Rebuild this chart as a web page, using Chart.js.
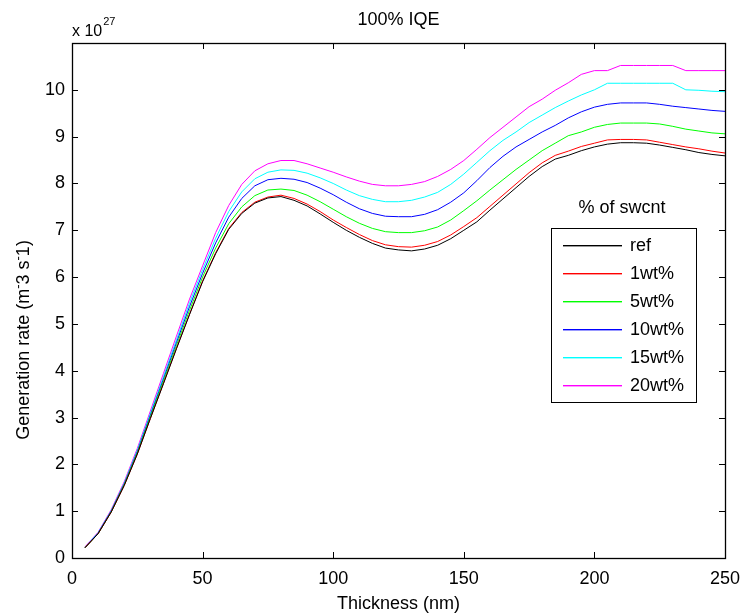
<!DOCTYPE html>
<html>
<head>
<meta charset="utf-8">
<script src="https://cdn.jsdelivr.net/npm/chart.js@4.4.1/dist/chart.umd.min.js"></script>
<style>
  html, body { margin: 0; padding: 0; background: #fff; }
  #wrap { width: 744px; height: 615px; position: relative; }
</style>
</head>
<body>
<div id="wrap"><canvas id="c" width="744" height="615"></canvas></div>
<script>
// Film thickness (nm)
const thickness = [5,10,15,20,25,30,35,40,45,50,55,60,65,70,75,80,85,90,95,100,
  105,110,115,120,125,130,135,140,145,150,155,160,165,170,175,180,185,190,195,200,
  205,210,215,220,225,230,235,240,245,250];

// Generation rate, in units of 1e27 m^-3 s^-1
const ref = [0.22,0.52,0.98,1.55,2.22,2.98,3.72,4.47,5.2,5.9,6.5,7.02,7.36,7.58,7.69,7.72,7.64,7.52,7.35,7.17,
  7.0,6.85,6.72,6.62,6.58,6.56,6.6,6.68,6.82,7.0,7.18,7.43,7.67,7.91,8.15,8.36,8.52,8.6,8.7,8.78,
  8.84,8.87,8.87,8.86,8.82,8.77,8.72,8.66,8.62,8.59];
const wt1 = [0.22,0.52,0.98,1.55,2.22,2.98,3.73,4.48,5.21,5.92,6.52,7.04,7.38,7.6,7.71,7.75,7.68,7.56,7.4,7.22,
  7.06,6.91,6.78,6.69,6.65,6.64,6.68,6.76,6.9,7.08,7.27,7.51,7.75,7.99,8.23,8.44,8.6,8.69,8.79,8.86,
  8.93,8.94,8.94,8.93,8.88,8.83,8.78,8.74,8.69,8.65];
const wt5 = [0.22,0.52,0.99,1.57,2.25,3.02,3.78,4.54,5.29,6.0,6.62,7.14,7.5,7.74,7.86,7.88,7.85,7.75,7.61,7.45,
  7.29,7.15,7.04,6.97,6.95,6.95,6.99,7.07,7.22,7.42,7.63,7.86,8.08,8.3,8.5,8.7,8.86,9.02,9.1,9.2,
  9.26,9.29,9.29,9.29,9.27,9.22,9.16,9.12,9.08,9.06];
const wt10 = [0.22,0.53,1.0,1.58,2.27,3.05,3.82,4.6,5.37,6.08,6.73,7.28,7.68,7.95,8.08,8.11,8.09,8.02,7.9,7.76,
  7.6,7.46,7.36,7.3,7.29,7.29,7.34,7.44,7.6,7.8,8.06,8.34,8.58,8.78,8.94,9.1,9.24,9.4,9.53,9.63,
  9.69,9.72,9.72,9.72,9.69,9.65,9.62,9.59,9.56,9.54];
const wt15 = [0.23,0.54,1.01,1.6,2.3,3.09,3.87,4.66,5.45,6.16,6.83,7.4,7.82,8.1,8.24,8.29,8.28,8.22,8.12,8.0,
  7.86,7.74,7.66,7.61,7.61,7.64,7.71,7.81,7.98,8.2,8.45,8.7,8.92,9.1,9.3,9.46,9.62,9.76,9.89,10.0,
  10.14,10.14,10.14,10.14,10.14,10.14,10.0,9.99,9.97,9.96];
const wt20 = [0.24,0.55,1.03,1.63,2.34,3.14,3.94,4.74,5.53,6.24,6.95,7.53,7.98,8.27,8.42,8.49,8.49,8.42,8.33,8.24,
  8.14,8.05,7.98,7.95,7.95,7.98,8.04,8.15,8.3,8.49,8.73,8.98,9.2,9.42,9.64,9.8,9.99,10.15,10.33,10.41,
  10.41,10.52,10.52,10.52,10.52,10.52,10.41,10.41,10.41,10.41];

const seriesLabels = ['ref','1wt%','5wt%','10wt%','15wt%','20wt%'];
const seriesValues = [ref, wt1, wt5, wt10, wt15, wt20];
const seriesColors = ['#000000','#ff0000','#00ff00','#0000ff','#00ffff','#ff00ff'];

const xTicks = [0,50,100,150,200,250];
const yTicks = [0,1,2,3,4,5,6,7,8,9,10];

const FONT = '"Liberation Sans", Arial, Helvetica, sans-serif';
const FS = 18;

const datasets = seriesValues.map((vals, i) => ({
  label: seriesLabels[i],
  data: thickness.map((t, k) => ({ x: t, y: vals[k] })),
  borderColor: seriesColors[i],
  backgroundColor: seriesColors[i],
  borderWidth: 1,
  pointRadius: 0,
  tension: 0,
  fill: false
}));

// Box, inward ticks on all four sides, texts and legend
const frame = {
  id: 'frame',
  afterDatasetsDraw(chart) {
    const { ctx, chartArea: a, scales: { x, y } } = chart;
    ctx.save();
    ctx.strokeStyle = '#000';
    ctx.lineWidth = 1;
    const L = 6;
    ctx.beginPath();
    xTicks.forEach(v => {
      const px = Math.round(x.getPixelForValue(v)) + 0.5;
      ctx.moveTo(px, a.bottom); ctx.lineTo(px, a.bottom - L);
      ctx.moveTo(px, a.top); ctx.lineTo(px, a.top + L);
    });
    yTicks.forEach(v => {
      const py = Math.round(y.getPixelForValue(v)) + 0.5;
      ctx.moveTo(a.left, py); ctx.lineTo(a.left + L, py);
      ctx.moveTo(a.right, py); ctx.lineTo(a.right - L, py);
    });
    ctx.stroke();
    ctx.lineWidth = 1.3;
    ctx.strokeRect(Math.round(a.left) + 0.5, Math.round(a.top) + 0.5,
      Math.round(a.right - a.left), Math.round(a.bottom - a.top));

    ctx.fillStyle = '#000';
    // Title
    ctx.font = FS + 'px ' + FONT;
    ctx.textAlign = 'center';
    ctx.textBaseline = 'alphabetic';
    ctx.fillText('100% IQE', (a.left + a.right) / 2, 25);

    // Exponent marker
    ctx.textAlign = 'left';
    ctx.font = '16px ' + FONT;
    ctx.fillText('x 10', a.left, 36);
    const w = ctx.measureText('x 10').width;
    ctx.font = '11px ' + FONT;
    ctx.fillText('27', a.left + w + 1, 25);

    // X title
    ctx.font = FS + 'px ' + FONT;
    ctx.textAlign = 'center';
    ctx.fillText('Thickness (nm)', (a.left + a.right) / 2, 609);

    // Y title with raised minus signs
    ctx.save();
    ctx.translate(29, 340);
    ctx.rotate(-Math.PI / 2);
    const parts = [
      ['Generation rate (m', false], ['-', true], ['3 s', false], ['-', true], ['1)', false]
    ];
    let total = 0;
    parts.forEach(([t, sup]) => {
      ctx.font = (sup ? 13 : FS) + 'px ' + FONT;
      total += ctx.measureText(t).width;
    });
    let cx = -total / 2;
    ctx.textAlign = 'left';
    parts.forEach(([t, sup]) => {
      ctx.font = (sup ? 13 : FS) + 'px ' + FONT;
      ctx.fillText(t, cx, sup ? -7 : 0);
      cx += ctx.measureText(t).width;
    });
    ctx.restore();

    // Legend
    const bx = 551, by = 228, bw = 145, bh = 174;
    ctx.font = FS + 'px ' + FONT;
    ctx.textAlign = 'center';
    ctx.fillText('% of swcnt', 622, 213);
    ctx.fillStyle = '#fff';
    ctx.fillRect(bx, by, bw, bh);
    ctx.lineWidth = 1;
    ctx.strokeStyle = '#000';
    ctx.strokeRect(bx + 0.5, by + 0.5, bw, bh);
    ctx.textAlign = 'left';
    ctx.textBaseline = 'middle';
    seriesLabels.forEach((label, i) => {
      const ry = Math.round(245 + i * 27.9);
      ctx.fillStyle = seriesColors[i];
      ctx.fillRect(563, ry, 59, 1.4);
      ctx.fillStyle = '#000';
      ctx.fillText(label, 630, ry + 1);
    });
    ctx.restore();
  }
};

new Chart(document.getElementById('c'), {
  type: 'line',
  data: { datasets },
  options: {
    responsive: false,
    animation: false,
    events: [],
    layout: { padding: { left: 0, right: 19, top: 43, bottom: 0 } },
    plugins: { legend: { display: false }, title: { display: false }, tooltip: { enabled: false } },
    scales: {
      x: {
        type: 'linear',
        min: 0, max: 250,
        afterBuildTicks: s => { s.ticks = xTicks.map(v => ({ value: v })); },
        afterFit: s => { s.height = 57; s.paddingLeft = 0; s.paddingRight = 0; },
        grid: { display: false, drawTicks: false },
        border: { display: false },
        ticks: { color: '#000', padding: 10, maxRotation: 0, font: { family: FONT, size: FS } }
      },
      y: {
        type: 'linear',
        min: 0, max: 11,
        afterBuildTicks: s => { s.ticks = yTicks.map(v => ({ value: v })); },
        afterFit: s => { s.width = 72; s.paddingTop = 0; s.paddingBottom = 0; },
        grid: { display: false, drawTicks: false },
        border: { display: false },
        ticks: { color: '#000', padding: 7, font: { family: FONT, size: FS } }
      }
    }
  },
  plugins: [frame]
});
</script>
</body>
</html>
